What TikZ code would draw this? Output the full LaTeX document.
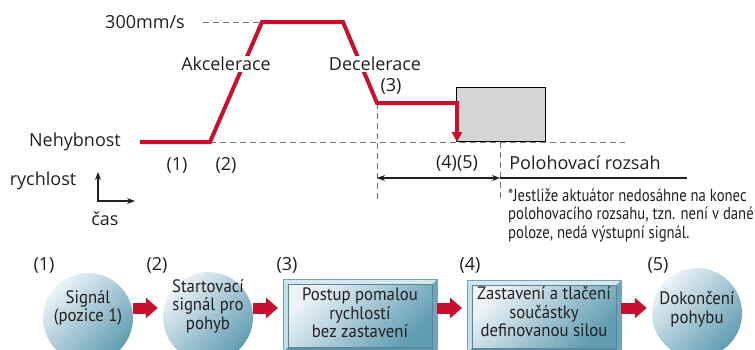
\documentclass[tikz,border=0pt]{standalone}
\usepackage{fontspec}
\setmainfont{Open Sans}
\newfontfamily\condf[FakeStretch=0.93]{PT Sans}
\newfontfamily\notef[FakeStretch=0.84]{PT Sans}
\usetikzlibrary{arrows.meta,calc}
\definecolor{txt}{RGB}{35,31,32}
\definecolor{redl}{RGB}{200,16,46}
\definecolor{dashg}{RGB}{115,115,115}
\definecolor{boxg}{RGB}{212,214,213}
\definecolor{tealD}{RGB}{96,156,178}
\definecolor{tealL}{RGB}{236,243,246}
\definecolor{bevT}{RGB}{214,232,238}
\definecolor{bevL}{RGB}{196,222,231}
\definecolor{bevR}{RGB}{112,166,186}
\definecolor{bevB}{RGB}{90,146,168}
\newcommand\bevbox[1]{%
  \fill[bevT] (#1.north west) -- (#1.north east) -- ($(#1.north east)+(-5,5)$) -- ($(#1.north west)+(5,5)$) -- cycle;
  \fill[bevL] (#1.north west) -- ($(#1.north west)+(5,5)$) -- ($(#1.south west)+(5,-5)$) -- (#1.south west) -- cycle;
  \fill[bevR] (#1.north east) -- ($(#1.north east)+(-5,5)$) -- ($(#1.south east)+(-5,-5)$) -- (#1.south east) -- cycle;
  \fill[bevB] (#1.south west) -- ($(#1.south west)+(5,-5)$) -- ($(#1.south east)+(-5,-5)$) -- (#1.south east) -- cycle;
  \shade[top color=tealL, bottom color=tealD, shading angle=45, draw=bevR!80!black, line width=0.4pt]
    ($(#1.north west)+(5,5)$) rectangle ($(#1.south east)+(-5,-5)$);
  \draw[bevR, line width=0.6pt] (#1.north west) rectangle (#1.south east);
}
\begin{document}
\begin{tikzpicture}[x=1pt,y=-1pt,
  lbl/.style={text=txt, font=\fontsize{18}{21}\selectfont, inner sep=0pt},
  knock/.style={fill=white, inner xsep=0pt, inner ysep=1pt},
  btxt/.style={text=txt, font=\condf\fontsize{18}{18.5}\selectfont, inner sep=0pt, align=center},
  note/.style={text=txt, font=\notef\fontsize{17.5}{18.5}\selectfont, inner sep=0pt, align=left},
  redline/.style={draw=redl, line width=4pt, line join=miter},
  dashline/.style={draw=dashg, line width=0.9pt, dash pattern=on 6pt off 4pt},
  dimline/.style={draw=txt, line width=1.2pt},
  blockarr/.style={draw=redl, line width=11pt, -{Triangle[length=12pt,width=20pt]}, shorten >=5pt},
  ball/.style={circle, minimum size=90pt, inner sep=0pt, top color=tealL, bottom color=tealD, shading angle=45},
  panel/.style={rectangle, minimum width=154pt, minimum height=73pt, inner sep=0pt, anchor=north west},
  graybox/.style={rectangle, draw=black, line width=1pt, fill=boxg, inner sep=0pt, minimum width=89pt, minimum height=54pt, anchor=south west}
]
\useasboundingbox (0,0) rectangle (755,349);
\clip (0,0) rectangle (755,349);

% ---------- upper graph ----------
\coordinate (p0) at (140,142);
\coordinate (p1) at (210,142);
\coordinate (p2) at (262,22);
\coordinate (p3) at (343,22);
\coordinate (p4) at (377,103);
\node[graybox] (blk) at (456,142) {};
\coordinate (p5) at (457,103);
\coordinate (p6) at (457,142);
\coordinate (d1) at (625,142);
\coordinate (q4) at (377,200);
\coordinate (r1) at (500,142);
\coordinate (r2) at (500,200);
\coordinate (a1) at (377,178);
\coordinate (a2) at (500,178);
\coordinate (a3) at (687,178);

\node[lbl] (v300) at (145,22) {300mm/s};
\draw[dashline] (203,22) -- (p2);
\draw[dashline] (p1) -- (d1);
\draw[dashline] (p4) -- (q4);
\draw[dashline] (r1) -- (r2);
\draw[redline, -{Triangle[length=10pt,width=10pt]}] (p0) -- (p1) -- (p2) -- (p3) -- (p4) -- (p5) -- (p6);
\draw[dimline, {Stealth[length=8pt,width=6pt]}-{Stealth[length=8pt,width=6pt]}] (a1) -- (a2);
\draw[dimline] (a2) -- (a3);

\node[lbl, knock] (akc) at (226,64) {Akcelerace};
\node[lbl, knock] (dec) at (375,64) {Decelerace};
\node[lbl] (n3) at (391,86) {(3)};
\node[lbl] (neh) at (75,142) {Nehybnost};
\node[lbl] (n1) at (177,165) {(1)};
\node[lbl] (n2) at (226,165) {(2)};
\node[lbl] (n45) at (457,163) {(4)(5)};
\node[lbl] (pol) at (585,163) {Polohovací rozsah};
\node[lbl] (rych) at (43,181) {rychlost};
\node[lbl] (cas) at (105,219) {čas};
\coordinate (ax0) at (98,201);
\coordinate (axu) at (98,172);
\coordinate (axr) at (135,201);
\draw[dimline, {Stealth[length=8pt,width=6pt]}-{Stealth[length=8pt,width=6pt]}] (axu) -- (ax0) -- (axr);

\node[note, anchor=north west] (fn) at (508,188) {*Jestliže aktuátor nedosáhne na konec\\polohovacího rozsahu, tzn. není v dané\\poloze, nedá výstupní signál.};

% ---------- lower flow ----------
\coordinate (ar) at (0,308);
\node[ball] (c1) at (88,318) {};
\node[ball] (c2) at (208,317) {};
\node[panel] (b3) at (283,279) {};
\node[panel] (b4) at (467,280) {};
\node[ball] (c5) at (697,313) {};
\bevbox{b3}
\bevbox{b4}

\node[btxt] (t1) at ($(c1)+(0,-10)$) {Signál\\(pozice 1)};
\node[btxt] (t2) at ($(c2)+(0,-11)$) {Startovací\\signál pro\\pohyb};
\node[btxt] (t3) at (360,313) {Postup pomalou\\rychlostí\\bez zastavení};
\node[btxt] (t4) at (544,312) {Zastavení a tlačení\\součástky\\definovanou silou};
\node[btxt] (t5) at ($(c5)+(0,-4)$) {Dokončení\\pohybu};

\node[lbl] (l1) at (44,265) {(1)};
\node[lbl] (l2) at (157,265) {(2)};
\node[lbl] (l3) at (287,265) {(3)};
\node[lbl] (l4) at (470,265) {(4)};
\node[lbl] (l5) at (658,265) {(5)};

\draw[blockarr] (c1.east |- ar) -- (c2.west |- ar);
\draw[blockarr] (c2.east |- ar) -- (b3.west |- ar);
\draw[blockarr] (b3.east |- ar) -- (b4.west |- ar);
\draw[blockarr] (b4.east |- ar) -- (c5.west |- ar);
\end{tikzpicture}
\end{document}
